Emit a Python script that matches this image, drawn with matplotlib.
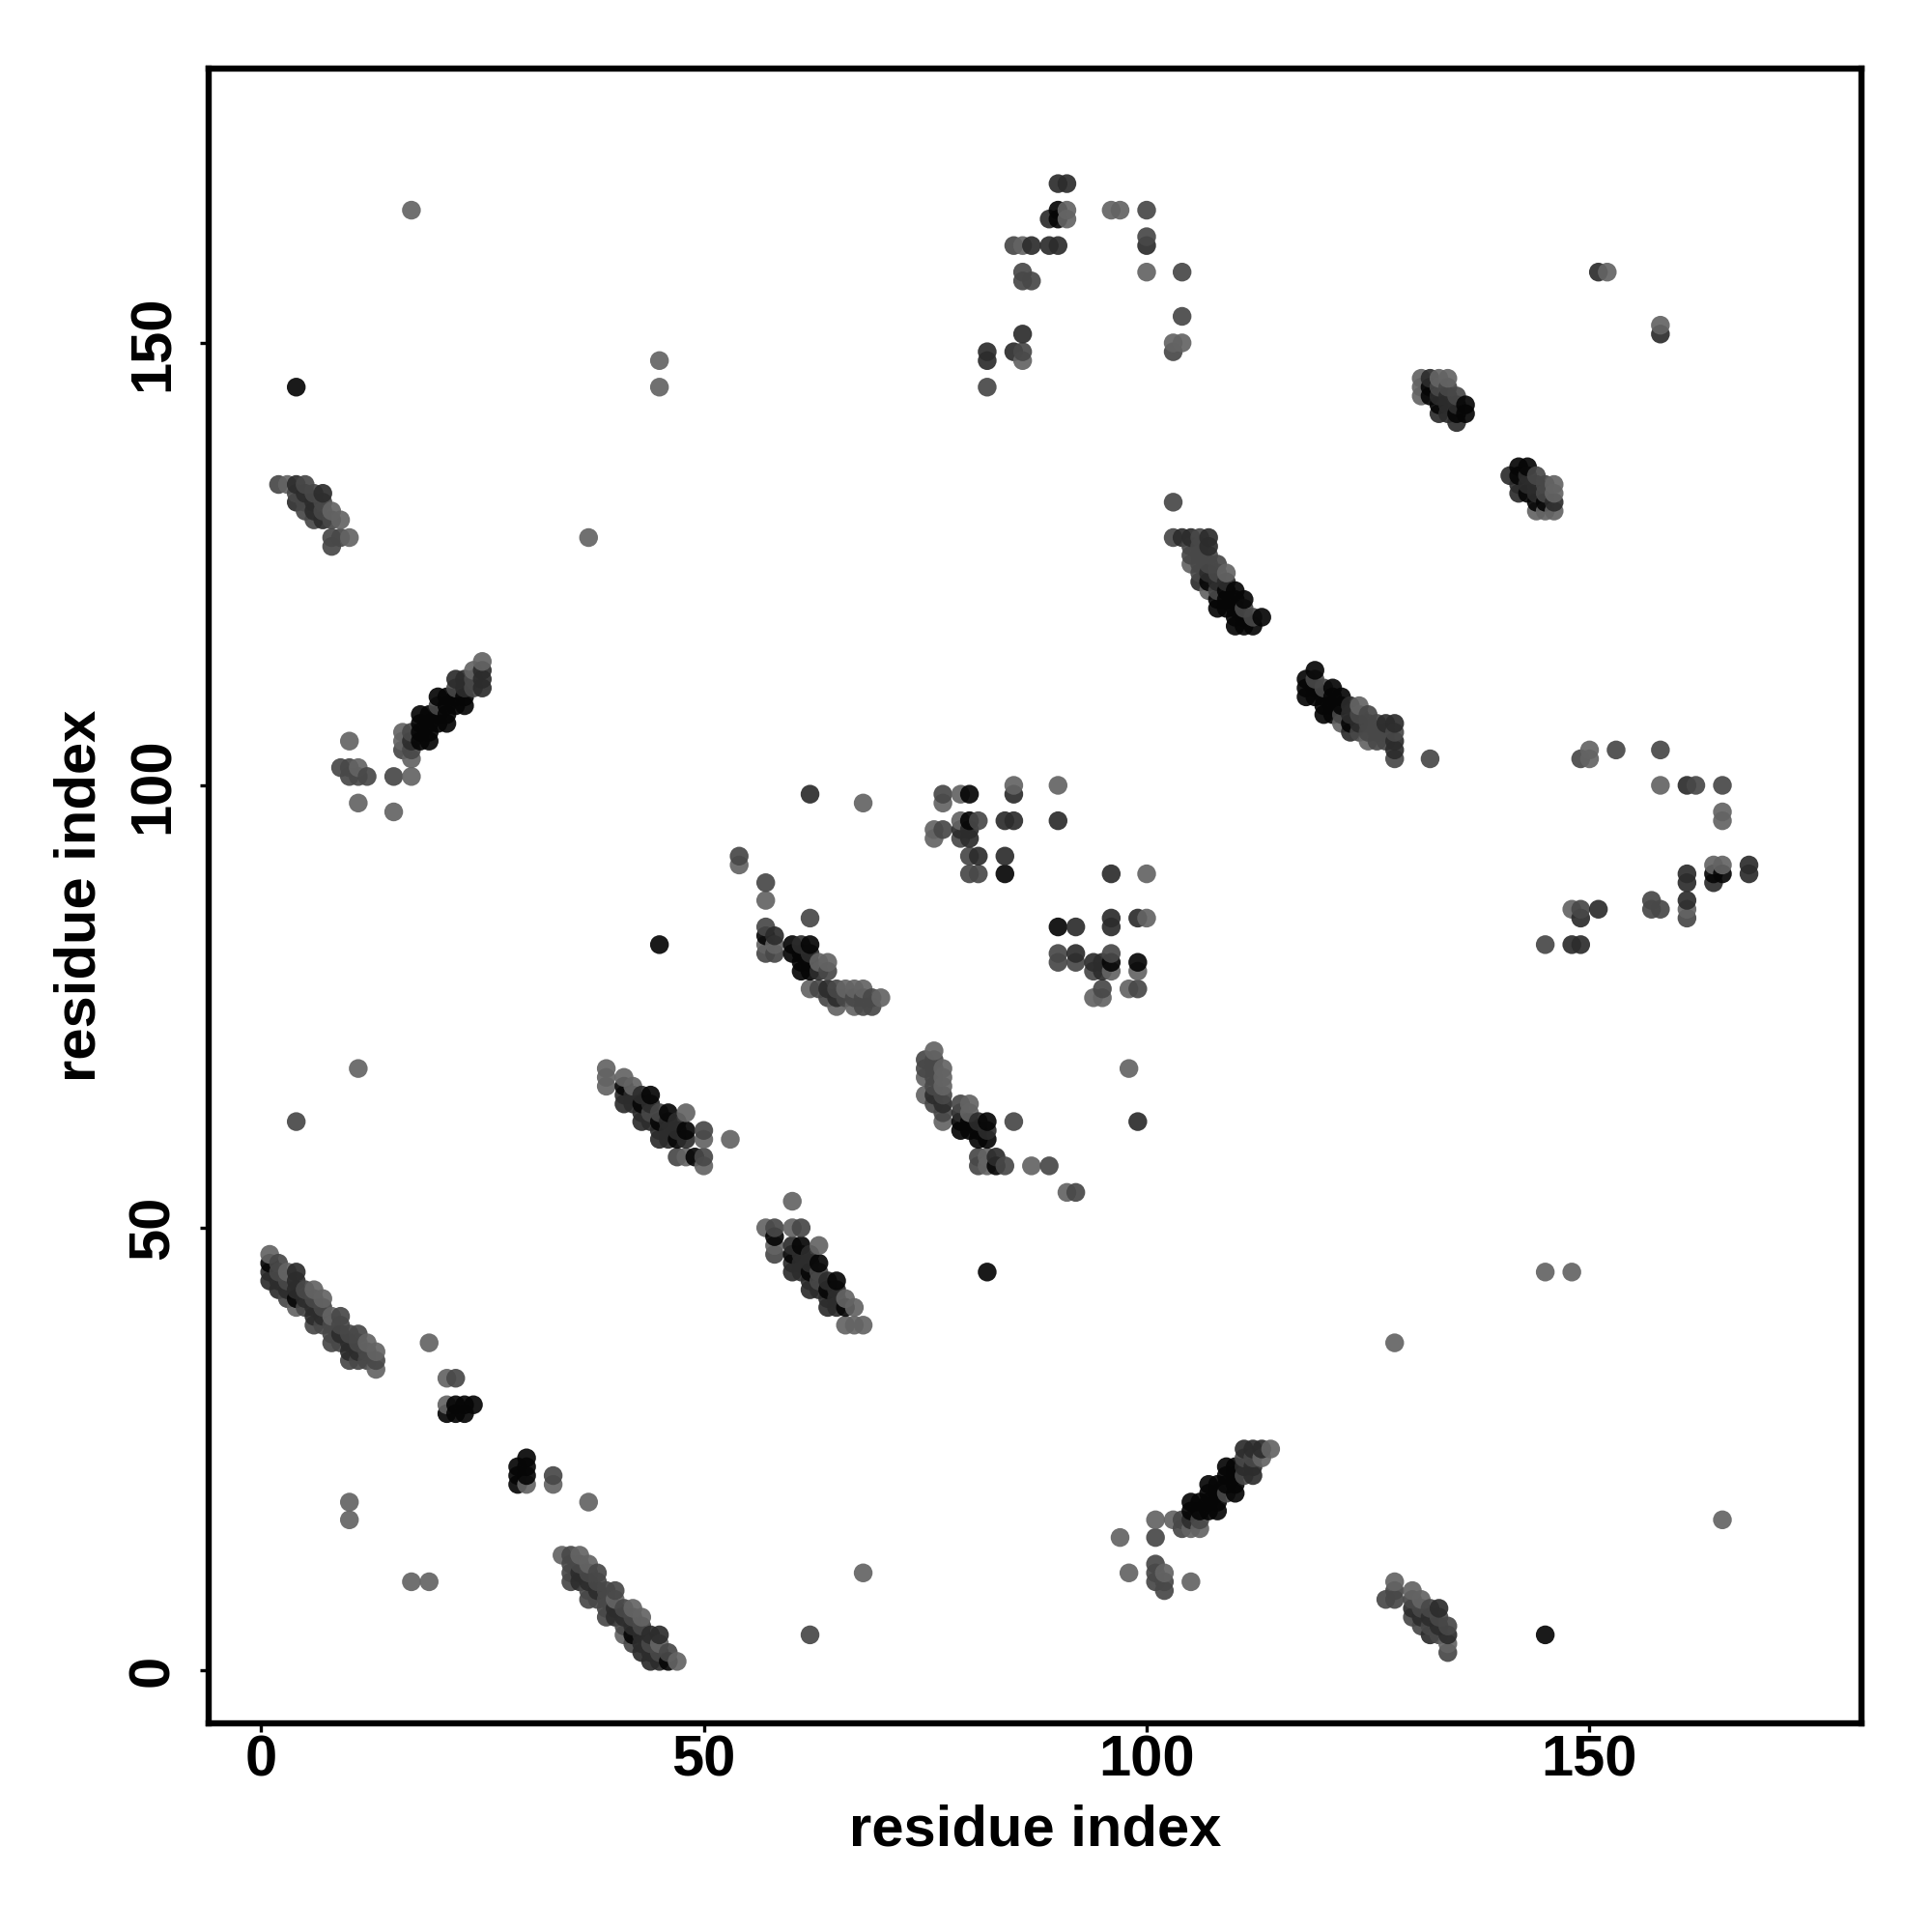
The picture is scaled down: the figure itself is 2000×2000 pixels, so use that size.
import numpy as np
import matplotlib
matplotlib.use("Agg")
import matplotlib.pyplot as plt

# contacts (i, j) with i < j, one list per strength, the map is symmetric
contacts_light = [
    (1, 47), (3, 45), (4, 41), (6, 43), (7, 42), (8, 40), (12, 37), (13, 34), (13, 36),
    (19, 37), (21, 30), (21, 33), (10, 105), (11, 98), (11, 102), (15, 97), (17, 101), (17, 103),
    (16, 105), (16, 106), (24, 113), (25, 114), (9, 130), (10, 128), (8, 131), (3, 134),
    (45, 145), (45, 148), (37, 128), (17, 165), (11, 68), (68, 98), (10, 17), (10, 19),
    (39, 66), (39, 67), (39, 68), (41, 67), (42, 66), (48, 58), (48, 63), (50, 57), (50, 60), (53, 60),
    (54, 91), (57, 82), (57, 87), (58, 82), (62, 77), (63, 80), (64, 80), (65, 75), (66, 77),
    (67, 75), (67, 77), (68, 77), (70, 76), (76, 94), (76, 95), (77, 98), (79, 96), (79, 99),
    (85, 100), (90, 100), (86, 148), (86, 161), (91, 164), (91, 165), (96, 165), (97, 165),
    (100, 158), (103, 150), (104, 150), (105, 125), (107, 122), (109, 124),
    (131, 144), (131, 145), (131, 146), (133, 146), (134, 146), (152, 158),
]
contacts_mid = [
    (2, 45), (2, 46), (3, 42), (3, 44), (5, 41), (5, 43), (6, 39), (6, 42), (7, 39), (7, 41),
    (8, 37), (8, 38), (8, 39), (9, 37), (9, 39), (9, 40), (10, 35), (10, 38), (11, 35), (11, 37), (11, 38),
    (12, 35), (12, 36), (13, 35), (22, 33), (9, 102), (10, 101), (10, 102), (11, 101), (12, 101), (15, 101),
    (16, 104), (17, 104), (17, 106), (20, 109), (22, 111), (24, 111), (24, 112),
    (8, 127), (8, 128), (9, 128), (8, 130), (6, 130), (7, 131), (5, 131), (7, 132), (5, 132), (6, 133), (4, 133),
    (5, 134), (2, 134), (4, 62), (44, 63), (45, 63), (47, 58), (50, 58), (50, 61),
    (54, 92), (57, 81), (57, 84), (57, 89), (58, 81), (62, 85), (63, 77), (64, 76), (64, 79), (65, 77),
    (66, 76), (67, 76), (68, 75), (68, 76), (69, 75), (69, 76), (77, 95), (77, 99), (79, 94),
    (80, 90), (80, 92), (81, 90), (81, 96), (82, 145), (85, 161), (86, 149), (86, 157), (86, 158), (87, 157),
    (100, 162), (100, 165), (103, 149), (104, 153), (104, 158), (103, 132), (103, 128),
    (105, 126), (105, 127), (106, 124), (106, 125), (106, 126), (106, 127), (106, 128), (107, 125), (107, 126),
    (108, 122), (108, 124), (108, 125), (111, 120), (112, 119), (133, 145), (134, 145), (135, 144),
]
contacts_dark = [
    (1, 44), (1, 45), (2, 43), (2, 44), (3, 43), (4, 43), (4, 44), (4, 45), (5, 42), (6, 40), (6, 41),
    (7, 40), (9, 38), (10, 36), (10, 37), (11, 36), (17, 105), (22, 112), (23, 111), (23, 112),
    (25, 111), (25, 112), (25, 113), (7, 130), (6, 131), (6, 132), (4, 132), (7, 133), (5, 133), (4, 134),
    (41, 64), (41, 65), (42, 64), (42, 65), (43, 62), (43, 63), (43, 65), (44, 62), (44, 64),
    (45, 60), (45, 61), (46, 60), (46, 61), (46, 62), (47, 61), (47, 62), (48, 60),
    (58, 83), (61, 82), (62, 81), (63, 79), (64, 77), (65, 76), (62, 99),
    (79, 95), (80, 94), (80, 95), (81, 92), (84, 92), (84, 96), (85, 96), (85, 99), (90, 96),
    (82, 148), (82, 149), (85, 149), (86, 151), (87, 161), (89, 161), (89, 164), (90, 161), (90, 168), (91, 168),
    (100, 161), (104, 128), (105, 128), (106, 123), (107, 124), (107, 127), (107, 128), (108, 123),
    (109, 123), (132, 146), (133, 142), (133, 144), (134, 142), (134, 143),
    (134, 144), (135, 141), (135, 143), (151, 158),
]
contacts_black = [
    (1, 46), (4, 42), (21, 29), (22, 29), (22, 30), (23, 29), (23, 30), (24, 30),
    (18, 105), (18, 106), (18, 107), (18, 108), (19, 105), (19, 106), (19, 107), (19, 108),
    (20, 107), (20, 108), (20, 110), (21, 107), (21, 108), (21, 109), (21, 110),
    (22, 109), (22, 110), (23, 109), (23, 110), (4, 145), (45, 82),
    (41, 66), (43, 64), (44, 65), (45, 62), (46, 63), (47, 60), (48, 61), (49, 58),
    (57, 83), (60, 81), (60, 82), (61, 79), (61, 80), (61, 81), (62, 79), (62, 80), (62, 82),
    (80, 96), (80, 99), (84, 90), (90, 164), (90, 165),
    (107, 123), (108, 120), (108, 121), (109, 120), (109, 121), (109, 122),
    (110, 118), (110, 119), (110, 120), (110, 121), (110, 122),
    (111, 118), (111, 119), (111, 121), (112, 118), (113, 119),
    (132, 144), (132, 145), (133, 143), (135, 142), (136, 142), (136, 143),
]
group_greys = [0.44, 0.34, 0.24, 0.10]  # how each group looks on white

tick_values = [0, 50, 100, 150]
axis_label = "residue index"

plt.rcParams["font.family"] = ["Liberation Sans", "DejaVu Sans"]
plt.rcParams["font.weight"] = "bold"

fig = plt.figure(figsize=(10, 10), dpi=200)
ax = fig.add_axes([216 / 2000, 1 - 1784 / 2000, (1927 - 216) / 2000, (1784 - 71) / 2000])

# each point is a grey with a little transparency, dense spots get darker
alpha = 0.92
xs, ys, vals = [], [], []
for pairs, grey in zip([contacts_light, contacts_mid, contacts_dark, contacts_black], group_greys):
    for i, j in pairs:
        xs += [i, j]
        ys += [j, i]
        vals += [grey, grey]
xs, ys, vals = np.array(xs), np.array(ys), np.array(vals)
order = np.lexsort((ys, xs))  # drawn by x then y, later points sit on top
grey_level = np.clip((vals[order] - (1 - alpha)) / alpha, 0, 1)
cols = np.column_stack([grey_level, grey_level, grey_level, np.full(len(order), alpha)])
ax.scatter(xs[order], ys[order], s=49, c=cols, linewidths=0)

ax.set_xlim(-5.89, 180.7)
ax.set_ylim(-6.0, 181.0)
ax.set_xticks(tick_values)
ax.set_yticks(tick_values)
ax.tick_params(length=3.2, width=1.2, labelsize=21.5)
ax.tick_params(axis="x", pad=1)
ax.tick_params(axis="y", pad=7.5)
for lab in ax.get_yticklabels():
    lab.set_rotation(90)
    lab.set_va("center")
for s in ax.spines.values():
    s.set_linewidth(2.3)

ax.set_xlabel(axis_label, fontsize=21.5, fontweight="bold")
ax.set_ylabel(axis_label, fontsize=21.5, fontweight="bold")
ax.xaxis.set_label_coords(0.5, (1784 - 1895) / 1713, transform=ax.transAxes)
ax.yaxis.set_label_coords((83 - 216) / 1711, 0.5, transform=ax.transAxes)
ax.xaxis.label.set_va("center")
ax.yaxis.label.set_va("center")

fig.savefig("out.png", dpi=200)
